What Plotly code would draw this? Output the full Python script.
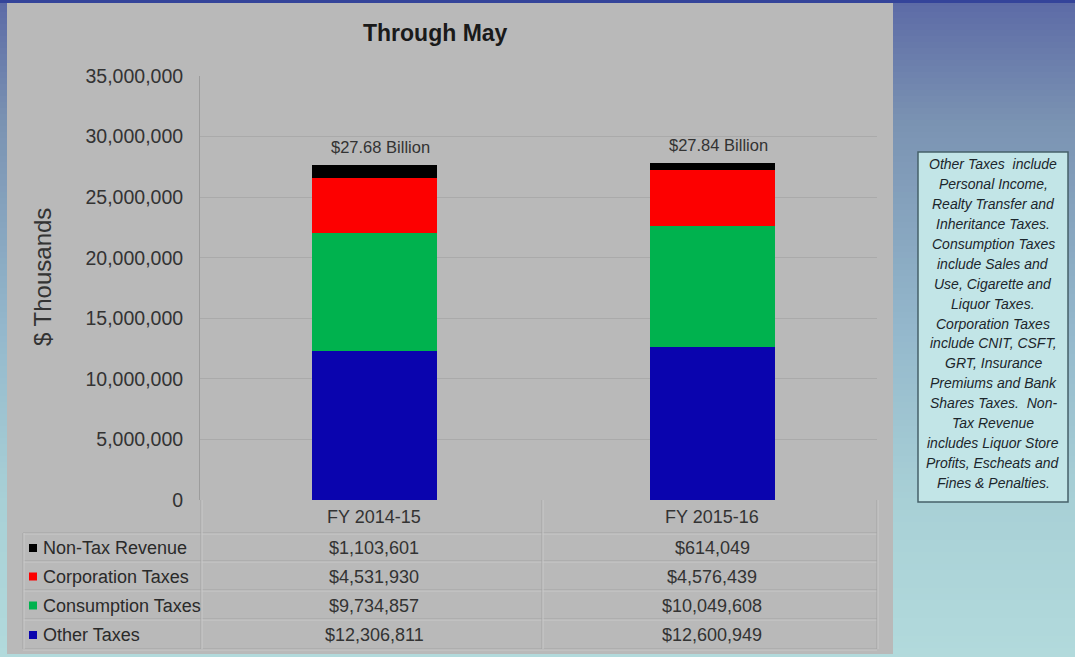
import plotly.graph_objects as go

W, H = 1075, 657

# ---------------- data ----------------
categories = ["FY 2014-15", "FY 2015-16"]
other_taxes = [12306811, 12600949]
consumption_taxes = [9734857, 10049608]
corporation_taxes = [4531930, 4576439]
non_tax_revenue = [1103601, 614049]
y_tick_values = [0, 5000000, 10000000, 15000000, 20000000, 25000000, 30000000, 35000000]
title_text = "Through May"
y_title = "$ Thousands"
note_lines = [
    "Other Taxes  include", "Personal Income,", "Realty Transfer and",
    "Inheritance Taxes.", "Consumption Taxes", "include Sales and",
    "Use, Cigarette and", "Liquor Taxes.", "Corporation Taxes",
    "include CNIT, CSFT,", "GRT, Insurance", "Premiums and Bank",
    "Shares Taxes.  Non-", "Tax Revenue", "includes Liquor Store",
    "Profits, Escheats and", "Fines & Penalties.",
]

# stacking order bottom -> top
series = [
    ("Other Taxes", other_taxes, "#0a04ae"),
    ("Consumption Taxes", consumption_taxes, "#00b24e"),
    ("Corporation Taxes", corporation_taxes, "#fd0000"),
    ("Non-Tax Revenue", non_tax_revenue, "#000000"),
]
# table rows top -> bottom
table_rows = list(reversed(series))

FONT = "Liberation Sans, Arial, sans-serif"
TXT = "#333333"


def px(x):
    return x / W


def py(y):
    return 1 - y / H


fig = go.Figure()
for name, vals, color in series:
    fig.add_trace(go.Bar(x=categories, y=vals, name=name, marker_color=color,
                         marker_line_width=0, width=0.37))

shapes = []
# background gradient (blue -> light cyan)
stops = [(0, (92, 106, 166)), (120, (122, 146, 178)), (330, (148, 184, 204)),
         (500, (168, 208, 214)), (657, (178, 218, 220))]


def grad(y):
    for (y0, c0), (y1, c1) in zip(stops[:-1], stops[1:]):
        if y0 <= y <= y1:
            t = (y - y0) / (y1 - y0)
            return "rgb(%d,%d,%d)" % tuple(round(a + (b - a) * t) for a, b in zip(c0, c1))
    return "rgb(178,218,220)"


step = 6
for y in range(0, H, step):
    shapes.append(dict(type="rect", xref="paper", yref="paper", x0=0, x1=1,
                       y0=py(min(H, y + step + 1)), y1=py(y), fillcolor=grad(y + step / 2),
                       line_width=0, layer="below"))
shapes.append(dict(type="rect", xref="paper", yref="paper", x0=0, x1=1,
                   y0=py(3), y1=py(0), fillcolor="#34449a", line_width=0, layer="below"))
# gray panel
shapes.append(dict(type="rect", xref="paper", yref="paper", x0=px(7), x1=px(893),
                   y0=py(654), y1=py(3), fillcolor="#b9b9b9", line_width=0, layer="below"))

# data table lines
LINE = "#a3a3a3"
LIGHT = "#cacaca"


def hline(x0, x1, y):
    shapes.append(dict(type="line", xref="paper", yref="paper", x0=px(x0), x1=px(x1),
                       y0=py(y), y1=py(y), line=dict(color=LINE, width=1)))
    shapes.append(dict(type="line", xref="paper", yref="paper", x0=px(x0), x1=px(x1),
                       y0=py(y + 1), y1=py(y + 1), line=dict(color=LIGHT, width=1)))


def vline(x, y0, y1):
    shapes.append(dict(type="line", xref="paper", yref="paper", x0=px(x), x1=px(x),
                       y0=py(y0), y1=py(y1), line=dict(color=LINE, width=1)))
    shapes.append(dict(type="line", xref="paper", yref="paper", x0=px(x + 1), x1=px(x + 1),
                       y0=py(y0), y1=py(y1), line=dict(color=LIGHT, width=1)))


row_lines = [533, 561, 590, 619, 649]
for y in row_lines:
    hline(23, 877, y)
vline(23, 533, 649)
vline(201, 500, 649)
vline(542, 500, 649)
vline(877, 500, 649)

# note box
shapes.append(dict(type="rect", xref="paper", yref="paper", x0=px(918), x1=px(1068),
                   y0=py(502), y1=py(152), fillcolor="#c2e5e7",
                   line=dict(color="#45606a", width=1.5)))

annotations = []


def ann(**kw):
    kw.setdefault("showarrow", False)
    kw.setdefault("xanchor", "center")
    kw.setdefault("yanchor", "middle")
    annotations.append(kw)


ann(text="<b>%s</b>" % title_text, xref="paper", yref="paper", x=px(435), y=py(33),
    font=dict(family=FONT, size=23, color="#1a1a1a"))
ann(text=y_title, xref="paper", yref="paper", x=px(42), y=py(277), textangle=-90,
    font=dict(family=FONT, size=24, color=TXT))

# totals above bars
for i, cat in enumerate(categories):
    total = sum(s[1][i] for s in series)
    ann(text="$%.2f Billion" % (total / 1e6), x=cat, y=total, xref="x", yref="y",
        yshift=18, xshift=6, font=dict(family=FONT, size=16.5, color=TXT))

# table header
for cat in categories:
    ann(text=cat, x=cat, xref="x", yref="paper", y=py(517),
        font=dict(family=FONT, size=18, color=TXT))

# table rows
row_centers = [(a + b) / 2 + 1 for a, b in zip(row_lines[:-1], row_lines[1:])]
for (name, vals, color), yc in zip(table_rows, row_centers):
    shapes.append(dict(type="rect", xref="paper", yref="paper", x0=px(29), x1=px(37),
                       y0=py(yc + 4), y1=py(yc - 4), fillcolor=color, line_width=0))
    ann(text=name, xref="paper", yref="paper", x=px(41), y=py(yc), xanchor="left",
        font=dict(family=FONT, size=18, color="#2a2a2a"))
    for cat, v in zip(categories, vals):
        ann(text="${:,}".format(v), x=cat, xref="x", yref="paper", y=py(yc),
            font=dict(family=FONT, size=18, color=TXT))

# note text
for k, line in enumerate(note_lines):
    ann(text="<i>%s</i>" % line.replace("  ", "&nbsp; "), xref="paper", yref="paper",
        x=px(993), y=py(164 + k * 19.94),
        font=dict(family="Liberation Sans Narrow, Liberation Sans, Arial",
                  size=14, color="#1c262c"))

fig.update_layout(
    width=W, height=H, autosize=False,
    margin=dict(l=0, r=0, t=0, b=0, pad=0, autoexpand=False),
    paper_bgcolor="#b4d6da", plot_bgcolor="#e1e1e1",
    barmode="stack", bargap=0.63, showlegend=False,
    font=dict(family=FONT, color=TXT),
    xaxis=dict(domain=[px(200), px(877)], range=[-0.515, 1.488], showticklabels=False,
               showgrid=False, zeroline=False, showline=False, ticks="", automargin=False),
    yaxis=dict(domain=[py(500), py(76)], range=[0, 35000000], tickvals=y_tick_values,
               tickformat=",", tickfont=dict(family=FONT, size=19.5, color=TXT),
               gridcolor="#aaaaaa", gridwidth=1, zeroline=False, showline=True,
               linecolor="#9c9c9c", linewidth=1, ticks="outside", ticklen=12,
               tickcolor="rgba(0,0,0,0)", automargin=False),
    shapes=shapes, annotations=annotations,
)

fig.write_html("out.html", config={"responsive": False, "displayModeBar": False},
               post_script="document.body.style.margin='0';")
